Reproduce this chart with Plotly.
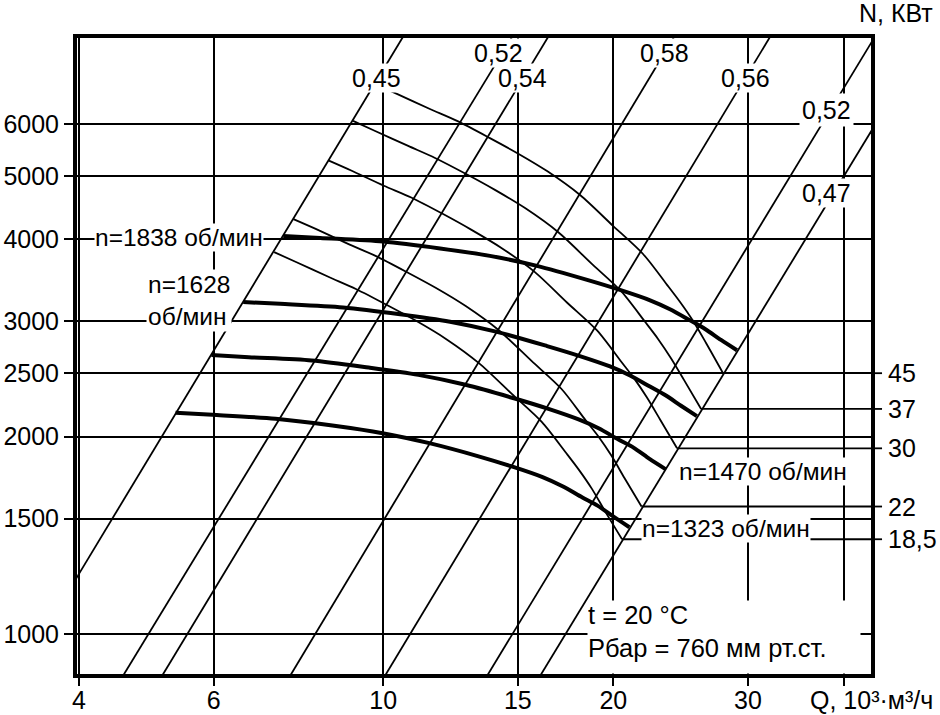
import math
import plotly.graph_objects as go

# Q in 10^3 m3/h, P in Pa (log-log chart)
q_ticks = [4, 6, 10, 15, 20, 30, 40]
q_tick_text = ["4", "6", "10", "15", "20", "30", ""]
p_ticks = [1000, 1500, 2000, 2500, 3000, 4000, 5000, 6000]

# P-Q curves at constant speed
speeds = [1838, 1628, 1470, 1323]
q_1838 = [7.40, 8.27, 9.99, 11.87, 13.79, 15.89, 18.48, 20.40, 22.34, 23.72, 25.19, 26.36, 27.66, 29.02]
p_1838 = [4050, 4020, 3970, 3875, 3775, 3645, 3470, 3350, 3230, 3130, 3010, 2920, 2810, 2710]
q_1628 = [6.56, 7.33, 8.86, 10.52, 12.23, 14.09, 16.38, 18.08, 19.80, 21.03, 22.33, 23.37, 24.52, 25.72]
p_1628 = [3210, 3190, 3150, 3075, 2995, 2890, 2750, 2655, 2560, 2480, 2385, 2315, 2230, 2150]
q_1470 = [5.96, 6.67, 8.06, 9.57, 11.12, 12.81, 14.90, 16.45, 18.01, 19.13, 20.31, 21.25, 22.30, 23.40]
p_1470 = [2665, 2645, 2615, 2550, 2485, 2400, 2285, 2205, 2125, 2060, 1980, 1925, 1850, 1785]
q_1323 = [5.35, 5.98, 7.23, 8.58, 9.98, 11.49, 13.36, 14.76, 16.16, 17.16, 18.22, 19.07, 20.01, 20.99]
p_1323 = [2175, 2160, 2130, 2080, 2025, 1955, 1865, 1800, 1735, 1680, 1615, 1570, 1510, 1455]

# constant power curves, kW
powers = ["45", "37", "30", "22", "18,5"]
q_n45 = [9.76, 10.42, 11.51, 12.49, 13.79, 14.96, 16.38, 18.09, 19.98, 21.87, 23.51, 24.45, 25.42, 26.44, 27.83]
p_n45 = [6905, 6670, 6325, 6065, 5710, 5420, 5085, 4675, 4195, 3800, 3410, 3210, 3005, 2780, 2500]
q_n37 = [9.13, 9.76, 10.78, 11.69, 12.91, 14.00, 15.33, 16.93, 18.70, 20.47, 22.00, 22.88, 23.79, 24.75, 26.05]
p_n37 = [6065, 5855, 5555, 5325, 5015, 4760, 4465, 4105, 3680, 3335, 2995, 2820, 2635, 2440, 2205]
q_n30 = [8.49, 9.08, 10.02, 10.88, 12.01, 13.03, 14.26, 15.75, 17.39, 19.04, 20.47, 21.29, 22.13, 23.02, 24.23]
p_n30 = [5275, 5095, 4830, 4635, 4365, 4140, 3885, 3575, 3205, 2905, 2605, 2455, 2295, 2125, 1920]
q_n22 = [7.63, 8.16, 9.01, 9.77, 10.79, 11.71, 12.82, 14.15, 15.63, 17.11, 18.39, 19.13, 19.89, 20.68, 21.77]
p_n22 = [4295, 4150, 3935, 3775, 3555, 3375, 3165, 2910, 2610, 2365, 2120, 2000, 1870, 1730, 1565]
q_n18 = [7.20, 7.69, 8.49, 9.21, 10.17, 11.04, 12.08, 13.34, 14.73, 16.13, 17.34, 18.03, 18.75, 19.50, 20.53]
p_n18 = [3825, 3695, 3505, 3360, 3165, 3005, 2820, 2590, 2325, 2105, 1890, 1780, 1665, 1540, 1395]

# efficiency lines, end points
eta_labels = ["0,45", "0,52", "0,54", "0,58", "0,56", "0,52", "0,47"]
eta_q = [[3.894, 10.61], [4.566, 14.74], [5.136, 16.43], [7.553, 24.01],
         [10.05, 32.05], [13.67, 43.94], [16.04, 44.67]]
eta_p = [[1173, 8144], [863, 8144], [863, 8144], [863, 8144],
         [863, 8144], [863, 8144], [863, 6163]]

X_RANGE = [0.59944, 1.63803]
Y_RANGE = [2.93897, 3.90937]
FONT = "Liberation Sans, Arial, sans-serif"

fig = go.Figure()

for q, p in zip(eta_q, eta_p):
    fig.add_trace(go.Scatter(x=q, y=p, mode="lines", line=dict(color="black", width=1.8)))

power_curves = [(q_n45, p_n45), (q_n37, p_n37), (q_n30, p_n30), (q_n22, p_n22), (q_n18, p_n18)]
q_edge = 10 ** X_RANGE[1] * 1.05
for q, p in power_curves:
    fig.add_trace(go.Scatter(x=q, y=p, mode="lines",
                             line=dict(color="black", width=1.8, shape="spline", smoothing=0.8)))
    # leader to the power scale
    fig.add_trace(go.Scatter(x=[q[-1], q_edge], y=[p[-1], p[-1]], mode="lines",
                             line=dict(color="black", width=1.8)))

speed_curves = [(q_1838, p_1838), (q_1628, p_1628), (q_1470, p_1470), (q_1323, p_1323)]
for q, p in speed_curves:
    fig.add_trace(go.Scatter(x=q, y=p, mode="lines",
                             line=dict(color="black", width=4, shape="spline", smoothing=0.8)))

ann = []
eta_pos = [(9.814, 7052), (14.13, 7713), (15.19, 7052), (23.36, 7713),
           (29.78, 7052), (37.95, 6303), (37.95, 4709)]
eta_pad = [0, 0, 0, 0, 0, 2, 0]
for text, (q, p), pad in zip(eta_labels, eta_pos, eta_pad):
    ann.append(dict(x=math.log10(q), y=math.log10(p), text=text, showarrow=False,
                    bgcolor="white", borderpad=pad))

n_font = dict(size=24.5)
ann.append(dict(x=math.log10(6.98), y=math.log10(4034), text="n=%d об/мин" % speeds[0],
                xanchor="right", showarrow=False, bgcolor="white", borderpad=0, font=n_font))
ann.append(dict(x=math.log10(4.894), y=math.log10(3228), text="n=%d<br>об/мин" % speeds[1],
                xanchor="left", align="left", showarrow=False, bgcolor="white", borderpad=1,
                font=n_font))
ann.append(dict(x=math.log10(24.30), y=math.log10(1773), text="n=%d об/мин" % speeds[2],
                xanchor="left", showarrow=False, bgcolor="white", borderpad=0, font=n_font))
ann.append(dict(x=math.log10(21.74), y=math.log10(1451), text="n=%d об/мин" % speeds[3],
                xanchor="left", showarrow=False, bgcolor="white", borderpad=0, font=n_font))
# conditions note, box reaching down to the frame
ann.append(dict(x=math.log10(18.48), y=math.log10(991), width=272, height=72,
                text="t = 20 °C<br>Рбар = 760 мм рт.ст.", valign="top",
                xanchor="left", align="left", showarrow=False, bgcolor="white", borderpad=0,
                font=dict(size=25.5)))

shapes = []
for label, (q, p) in zip(powers, power_curves):
    ann.append(dict(xref="paper", x=1.019, y=math.log10(p[-1]), text=label,
                    xanchor="left", yanchor="middle", showarrow=False))
    shapes.append(dict(type="line", xref="paper", yref="y", x0=1.0, x1=1.0139,
                       y0=p[-1], y1=p[-1], line=dict(color="black", width=1.8)))

ann.append(dict(xref="paper", yref="paper", x=1.0315, y=1.040, text="N, КВт",
                xanchor="center", yanchor="middle", showarrow=False))
ann.append(dict(xref="paper", yref="paper", x=1.0, y=-0.041, text="Q, 10³·м³/ч",
                xanchor="center", yanchor="middle", showarrow=False))

axis_style = dict(type="log", showgrid=True, gridcolor="black", gridwidth=1.8,
                  ticks="outside", tickcolor="black", tickwidth=2, automargin=False,
                  showline=True, linecolor="black", linewidth=4, mirror=True,
                  zeroline=False, tickfont=dict(size=25, color="black"))

fig.update_xaxes(range=X_RANGE, tickvals=q_ticks, ticktext=q_tick_text, ticklen=8,
                 ticklabelstandoff=-7, **axis_style)
fig.update_yaxes(range=Y_RANGE, tickvals=p_ticks, ticktext=[str(v) for v in p_ticks],
                 ticklen=9, **axis_style)

fig.update_layout(width=940, height=715, margin=dict(l=77, r=69, t=38, b=41),
                  paper_bgcolor="white", plot_bgcolor="white", showlegend=False,
                  hovermode=False, font=dict(family=FONT, size=25, color="black"),
                  annotations=ann, shapes=shapes)

fig.write_html("out.html", config=dict(displayModeBar=False),
               post_script="document.body.style.margin='0';"
               "document.documentElement.style.overflow='hidden';")
